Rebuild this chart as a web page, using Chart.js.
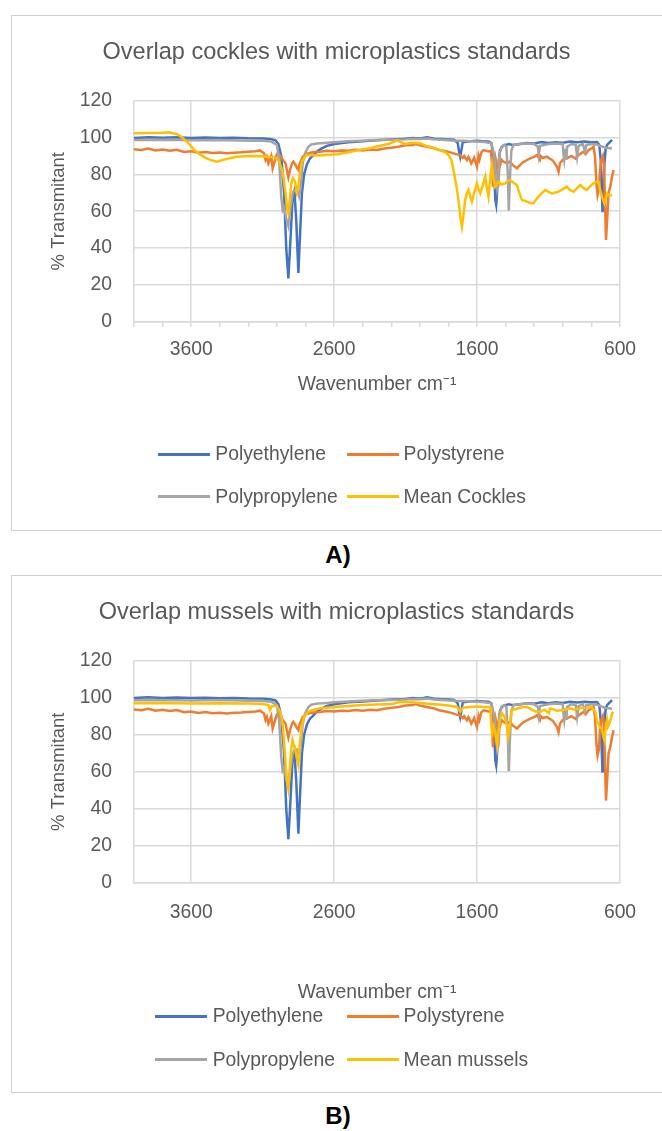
<!DOCTYPE html>
<html>
<head>
<meta charset="utf-8">
<script src="https://cdn.jsdelivr.net/npm/chart.js@4.4.1/dist/chart.umd.min.js"></script>
<style>
  body { margin: 0; background: #fff; width: 662px; height: 1131px; position: relative; overflow: hidden; }
  .box { position: absolute; left: 11px; width: 660px; border: 1px solid #d0d0d0; border-right: none; box-sizing: border-box; }
  canvas { position: absolute; left: 11px; }
  .leg-line { position: absolute; height: 3px; }
  .leg-text, .panel-label { position: absolute; white-space: nowrap; color: #595959; }
  .panel-label { color: #000; font-weight: bold; width: 676px; left: 0; text-align: center; }
</style>
</head>
<body>
<div class="box" style="top:15px;height:516px"></div>
<div class="box" style="top:575px;height:518px"></div>
<canvas id="chartA" width="651" height="515" style="top:15px"></canvas>
<canvas id="chartB" width="651" height="517" style="top:575px"></canvas>

<script>
// wavenumber (cm-1), % transmittance
const polyethylene = [
  [4000, 99.8], [3900, 100.2], [3800, 99.9], [3700, 100.1], [3600, 99.8], [3500, 100.0],
  [3400, 99.7], [3300, 99.9], [3200, 99.6], [3100, 99.5], [3050, 99.2], [3010, 98.5],
  [2990, 96.5], [2970, 90], [2950, 70], [2935, 40], [2920, 23.5], [2905, 45], [2890, 68],
  [2878, 71], [2865, 55], [2850, 26.5], [2838, 48], [2825, 70], [2810, 80], [2790, 85.5],
  [2770, 88.5], [2750, 90], [2720, 92.5], [2690, 94], [2650, 95.5], [2600, 96.5],
  [2500, 97.5], [2400, 98], [2300, 98.5], [2200, 99], [2100, 99.3], [2050, 99.8],
  [2000, 99.5], [1950, 100.2], [1900, 99.4], [1850, 99.2], [1800, 99], [1760, 98.8],
  [1735, 97], [1725, 92], [1718, 89.5], [1710, 93], [1700, 97.5], [1650, 98], [1600, 98.2],
  [1560, 98], [1520, 97.8], [1500, 97], [1490, 92], [1480, 80], [1472, 66], [1466, 63.5],
  [1460, 70], [1450, 85], [1440, 93], [1420, 95.5], [1400, 96], [1378, 96.5], [1350, 96],
  [1300, 96.5], [1250, 97], [1200, 96.8], [1150, 97.5], [1100, 97], [1050, 97.5],
  [1000, 97.2], [950, 97.8], [900, 97.4], [850, 97.8], [800, 97.5], [760, 97.6], [745, 96],
  [735, 88], [728, 72], [722, 59.5], [716, 66], [710, 85], [700, 94], [690, 96],
  [675, 97.2], [665, 98], [655, 98.6]
];

const polystyrene = [
  [4000, 93.6], [3950, 93.2], [3900, 94], [3850, 93], [3800, 93.5], [3750, 92.8],
  [3700, 93.3], [3650, 92.2], [3600, 92.5], [3550, 91.8], [3500, 92.2], [3450, 91.6],
  [3400, 91.9], [3350, 91.5], [3300, 91.8], [3250, 92], [3200, 92.3], [3150, 92.6],
  [3120, 93], [3090, 91.5], [3080, 88], [3071, 89.6], [3060, 86], [3040, 90], [3030, 83.3],
  [3020, 86], [3000, 91], [2980, 90.5], [2960, 88], [2940, 86], [2930, 82], [2920, 78.4],
  [2910, 82], [2895, 86], [2885, 86.9], [2870, 85], [2860, 83.5], [2850, 82.4], [2840, 86],
  [2820, 89.5], [2800, 91], [2750, 92], [2700, 92.3], [2650, 92.8], [2600, 92.5],
  [2550, 93], [2500, 92.8], [2450, 93.3], [2400, 93], [2350, 93.5], [2300, 93.2],
  [2250, 94], [2200, 94.5], [2150, 95], [2100, 95.8], [2050, 96], [2029, 96.5],
  [2000, 95.8], [1950, 95], [1900, 94.2], [1866, 93.2], [1820, 92.5], [1780, 91.8],
  [1748, 91], [1720, 90.5], [1700, 89], [1690, 90], [1671, 87.8], [1660, 89.5],
  [1640, 86], [1620, 89], [1601, 84.2], [1590, 90], [1583, 88], [1570, 92], [1555, 93.2],
  [1520, 92.5], [1503, 92.8], [1495, 85], [1489, 73.3], [1483, 85], [1473, 89.6],
  [1460, 85], [1452, 73.3], [1445, 83], [1430, 88], [1415, 86.9], [1390, 86], [1370, 87],
  [1350, 85], [1321, 83.3], [1300, 85], [1280, 86.5], [1251, 87.8], [1220, 89],
  [1200, 89.5], [1181, 90.5], [1160, 88], [1155, 90], [1140, 89], [1111, 89.6],
  [1090, 88.5], [1070, 87.5], [1065, 86.9], [1040, 84], [1030, 81.4], [1020, 86],
  [1000, 88], [972, 88.7], [940, 90], [910, 88.5], [902, 89.6], [880, 91], [855, 92.3],
  [840, 91], [820, 93.2], [800, 94], [785, 95], [775, 90], [765, 75], [757, 68.8],
  [748, 72], [740, 82], [730, 88], [720, 90], [712, 85], [705, 65], [698, 44.4],
  [690, 55], [680, 70], [668, 73.3], [655, 79], [645, 82.4]
];

const polypropylene = [
  [4000, 98.6], [3800, 98.8], [3600, 98.5], [3400, 98.7], [3200, 98.3], [3100, 98.2],
  [3040, 97.8], [3000, 96], [2985, 88], [2970, 68], [2960, 60.6], [2950, 62], [2935, 56],
  [2920, 52], [2905, 62], [2890, 70], [2875, 71.5], [2860, 72], [2845, 68], [2835, 72],
  [2820, 86], [2800, 92], [2780, 95], [2760, 96.2], [2720, 96.8], [2650, 97.2],
  [2600, 97.5], [2500, 98], [2400, 98.3], [2300, 98.6], [2200, 98.8], [2100, 99],
  [2050, 99.3], [2000, 99.2], [1950, 99.5], [1900, 99], [1850, 98.8], [1800, 98.5],
  [1750, 98.3], [1700, 98.2], [1650, 98], [1600, 97.8], [1550, 97.6], [1500, 97],
  [1480, 90], [1470, 80], [1460, 73], [1452, 78], [1445, 90], [1430, 95], [1410, 96],
  [1395, 95], [1385, 80], [1378, 60.3], [1370, 78], [1360, 93], [1345, 96], [1300, 96.5],
  [1250, 96.8], [1200, 96.5], [1175, 95], [1168, 90.5], [1160, 95.5], [1100, 96.5],
  [1050, 96.8], [1000, 96.5], [997, 92], [990, 87.8], [980, 94], [975, 88], [970, 95],
  [940, 96.5], [910, 96], [900, 89.6], [890, 95.5], [860, 96.5], [845, 92.3], [835, 96],
  [800, 96.5], [760, 96.2], [740, 95.5], [720, 95], [700, 94.5], [680, 94.3], [656, 94]
];

const meanCockles = [
  [4000, 102.3], [3900, 102.5], [3800, 102.6], [3756, 102.8], [3700, 101.8], [3668, 100.4],
  [3620, 97], [3580, 93.5], [3550, 91.4], [3500, 89], [3450, 87.5], [3420, 86.9],
  [3380, 87.8], [3330, 88.8], [3284, 89.6], [3230, 89.8], [3167, 90], [3100, 89.8],
  [3071, 89.6], [3020, 89.4], [2990, 87.8], [2970, 84], [2955, 78.7], [2940, 70],
  [2928, 61], [2920, 58.8], [2910, 66], [2900, 75], [2889, 77.9], [2873, 76], [2860, 70],
  [2850, 73.3], [2840, 80], [2826, 86.9], [2810, 89], [2791, 90.5], [2700, 90.3],
  [2651, 90.5], [2575, 90.9], [2500, 92], [2428, 93.2], [2350, 94.2], [2280, 95.5],
  [2220, 96.5], [2162, 98.3], [2130, 97.5], [2103, 96.5], [2070, 97], [2029, 97.2],
  [1998, 96.8], [1955, 95.4], [1928, 95], [1880, 93.8], [1858, 93.2], [1820, 92],
  [1800, 90.5], [1780, 88], [1765, 82.4], [1745, 74], [1730, 66.1], [1715, 56],
  [1706, 51.6], [1695, 58], [1683, 66.1], [1670, 70], [1660, 71.5], [1648, 68],
  [1636, 65.2], [1620, 70], [1601, 75.1], [1590, 72], [1578, 69.7], [1560, 74],
  [1543, 78.7], [1530, 72], [1520, 67.9], [1508, 78], [1496, 85.1], [1485, 78],
  [1473, 73.3], [1460, 75], [1450, 76], [1430, 74.5], [1403, 75.1], [1385, 76.5],
  [1368, 76.9], [1345, 75.5], [1321, 74.2], [1300, 69], [1286, 66.1], [1251, 65.2],
  [1230, 64.5], [1205, 64.3], [1190, 66], [1170, 67.9], [1145, 70], [1123, 71.5],
  [1100, 70.5], [1076, 69.7], [1050, 70.2], [1030, 70.6], [1000, 72], [972, 73.3],
  [950, 71.5], [925, 70.6], [900, 72.5], [878, 74.2], [855, 72.5], [832, 71.5],
  [810, 73.5], [785, 75.1], [760, 76.2], [750, 76], [740, 72], [726, 67.9], [710, 64.3],
  [700, 67], [691, 69.7], [675, 68.5], [656, 68.8]
];

const meanMussels = [
  [4000, 97], [3800, 97.2], [3600, 96.8], [3400, 97], [3200, 96.8], [3100, 96.6],
  [3060, 96], [3048, 93.4], [3035, 95.5], [3000, 95.5], [2975, 92], [2960, 85],
  [2953, 78.9], [2940, 65], [2930, 55], [2921, 51], [2910, 62], [2900, 72], [2891, 77.1],
  [2880, 74], [2870, 71.7], [2860, 67], [2850, 63.6], [2840, 75], [2825, 85], [2811, 89.7],
  [2780, 92.5], [2740, 93.5], [2693, 94.3], [2575, 95.1], [2400, 96], [2200, 96.6],
  [2132, 97.8], [2050, 97.5], [1984, 97], [1900, 96.5], [1850, 96.2], [1800, 95.8],
  [1778, 95.5], [1740, 95], [1718, 92.4], [1700, 94.5], [1650, 95], [1600, 95.2],
  [1550, 95], [1515, 95], [1508, 94.5], [1503, 88], [1495, 80.8], [1485, 84.3],
  [1470, 80], [1459, 74.4], [1450, 82], [1440, 88], [1428, 91.6], [1410, 90],
  [1394, 86.2], [1382, 78.9], [1370, 85], [1358, 93.4], [1320, 94], [1290, 94.8],
  [1253, 95.1], [1215, 93.4], [1190, 92.5], [1158, 92.4], [1130, 93.5], [1098, 91.6],
  [1088, 94.3], [1040, 93], [995, 93.4], [950, 94.3], [920, 93.5], [878, 94.3],
  [840, 94.5], [803, 95.1], [785, 93.4], [770, 92], [759, 86.2], [750, 86.2], [740, 84],
  [729, 83.5], [715, 78.9], [708, 77.1], [700, 84], [691, 88], [685, 84.3], [673, 86.2],
  [660, 90], [655, 91.6], [645, 92.4]
];

const labeledTicks = [600, 1600, 2600, 3600];
const minorTicks = [600, 800, 1000, 1200, 1400, 1600, 1800, 2000, 2200, 2400, 2600,
  2800, 3000, 3200, 3400, 3600, 3800, 4000];

const seriesNames = ["Polyethylene", "Polystyrene", "Polypropylene"];
const seriesColors = ["#4472C4", "#ED7D31", "#A5A5A5", "#FFC000"];

const TXT = "#595959";
const GRID = "#d9d9d9";

// pick the narrow face if the machine has it, else shrink the regular one
function hasFont(name) {
  const c = document.createElement("canvas").getContext("2d");
  const s = "Polypropylene Wavenumber 3600";
  c.font = "40px monospace";
  const a = c.measureText(s).width;
  c.font = "40px '" + name + "', monospace";
  return c.measureText(s).width !== a;
}
const narrow = hasFont("Liberation Sans Narrow");
const FAMILY = narrow ? "'Liberation Sans Narrow', 'Liberation Sans', sans-serif" : "'Liberation Sans', Arial, sans-serif";
const K = narrow ? 1 : 0.84;

function makePanel(id, title, meanLabel, meanData, opt) {
  const all = [polyethylene, polystyrene, polypropylene, meanData];
  const names = [...seriesNames, meanLabel];
  const datasets = all.map((pts, i) => ({
    label: names[i],
    data: pts.map(([x, y]) => ({ x: x, y: y })),
    borderColor: seriesColors[i],
    borderWidth: 2.5,
    pointRadius: 0,
    fill: false,
    tension: 0,
    order: 3 - i, // mean on top, like the original
    xAxisID: "x",
    yAxisID: "y",
  }));

  return new Chart(document.getElementById(id), {
    type: "line",
    data: { datasets: datasets },
    options: {
      responsive: false,
      animation: false,
      devicePixelRatio: 1,
      layout: { padding: { left: 0, right: 0, top: 0, bottom: opt.padBottom } },
      plugins: {
        legend: { display: false },
        tooltip: { enabled: false },
        title: {
          display: true,
          text: title,
          color: TXT,
          font: { family: FAMILY, size: 28 * K, weight: "normal", lineHeight: "34px" },
          padding: { top: 20.3, bottom: 31.4 },
        },
      },
      scales: {
        x: {
          type: "linear",
          reverse: true,
          min: 600,
          max: 4000,
          afterBuildTicks: (s) => {
            s.ticks = (opt.minor ? minorTicks : labeledTicks).map((v) => ({ value: v }));
          },
          afterFit: (s) => { s.height = opt.axisH; },
          ticks: {
            autoSkip: false,
            maxRotation: 0,
            minRotation: 0,
            padding: opt.tickPad,
            color: TXT,
            font: { family: FAMILY, size: 23 * K, lineHeight: "28px" },
            callback: (v) => (labeledTicks.includes(v) ? String(v) : ""),
          },
          grid: {
            color: (c) => (c.tick && labeledTicks.includes(c.tick.value) ? GRID : "rgba(0,0,0,0)"),
            tickColor: GRID,
            lineWidth: 1.5,
            drawTicks: opt.minor,
            tickLength: 5,
          },
          border: { display: true, color: GRID, width: 1.5 },
          title: {
            display: true,
            text: "Wavenumber cm\u207B\u00B9",
            color: TXT,
            font: { family: FAMILY, size: 23 * K, lineHeight: "28px" },
            padding: 0,
          },
        },
        y: {
          min: 0,
          max: 120,
          afterFit: (s) => { s.width = 123; },
          ticks: {
            stepSize: 20,
            padding: 22,
            color: TXT,
            font: { family: FAMILY, size: 23 * K, lineHeight: "28px" },
          },
          grid: { color: GRID, lineWidth: 1.5, drawTicks: false },
          border: { display: true, color: GRID, width: 1.5 },
          title: {
            display: true,
            text: "% Transmitant",
            color: TXT,
            font: { family: FAMILY, size: 22 * K, lineHeight: "26px" },
            padding: { top: 34.5, bottom: 0 },
          },
        },
        // empty right axis, only keeps the plot off the right edge
        yRight: {
          position: "right",
          ticks: { display: false },
          grid: { display: false },
          border: { display: false },
          afterFit: (s) => { s.width = 42; },
        },
      },
    },
  });
}

// Legend laid out like the Excel one: 2 x 2
function addLegend(names, rowsY, lineX, textX) {
  names.forEach((name, i) => {
    const row = Math.floor(i / 2), col = i % 2;
    const y = rowsY[row];
    const line = document.createElement("div");
    line.className = "leg-line";
    line.style.left = lineX[col][0] + "px";
    line.style.width = (lineX[col][1] - lineX[col][0]) + "px";
    line.style.top = (y - 1.5) + "px";
    line.style.background = seriesColors[i];
    document.body.appendChild(line);

    const fs = 23 * K;
    const t = document.createElement("div");
    t.className = "leg-text";
    t.textContent = name;
    t.style.fontFamily = FAMILY;
    t.style.fontSize = fs + "px";
    t.style.lineHeight = fs + "px";
    t.style.left = textX[col] + "px";
    t.style.top = (y - fs / 2) + "px";
    document.body.appendChild(t);
  });
}

function addPanelLabel(text, cy) {
  const d = document.createElement("div");
  d.className = "panel-label";
  d.textContent = text;
  d.style.fontFamily = "'Liberation Sans', Arial, sans-serif";
  d.style.fontSize = "24px";
  d.style.lineHeight = "24px";
  d.style.top = (cy - 12) + "px";
  document.body.appendChild(d);
}

makePanel("chartA", "Overlap cockles with microplastics standards", "Mean Cockles", meanCockles,
  { minor: true, tickPad: 9.3, axisH: 77.3, padBottom: 131 });
makePanel("chartB", "Overlap mussels with microplastics standards", "Mean mussels", meanMussels,
  { minor: false, tickPad: 16, axisH: 124.3, padBottom: 85 });

addLegend([...seriesNames, "Mean Cockles"], [454, 496.7],
  [[157.5, 209.8], [346.5, 398.5]], [215.3, 403.6]);
addLegend([...seriesNames, "Mean mussels"], [1016, 1059.3],
  [[154.5, 207], [346.5, 398.5]], [212.7, 403.6]);

addPanelLabel("A)", 555);
addPanelLabel("B)", 1116);
</script>
</body>
</html>
